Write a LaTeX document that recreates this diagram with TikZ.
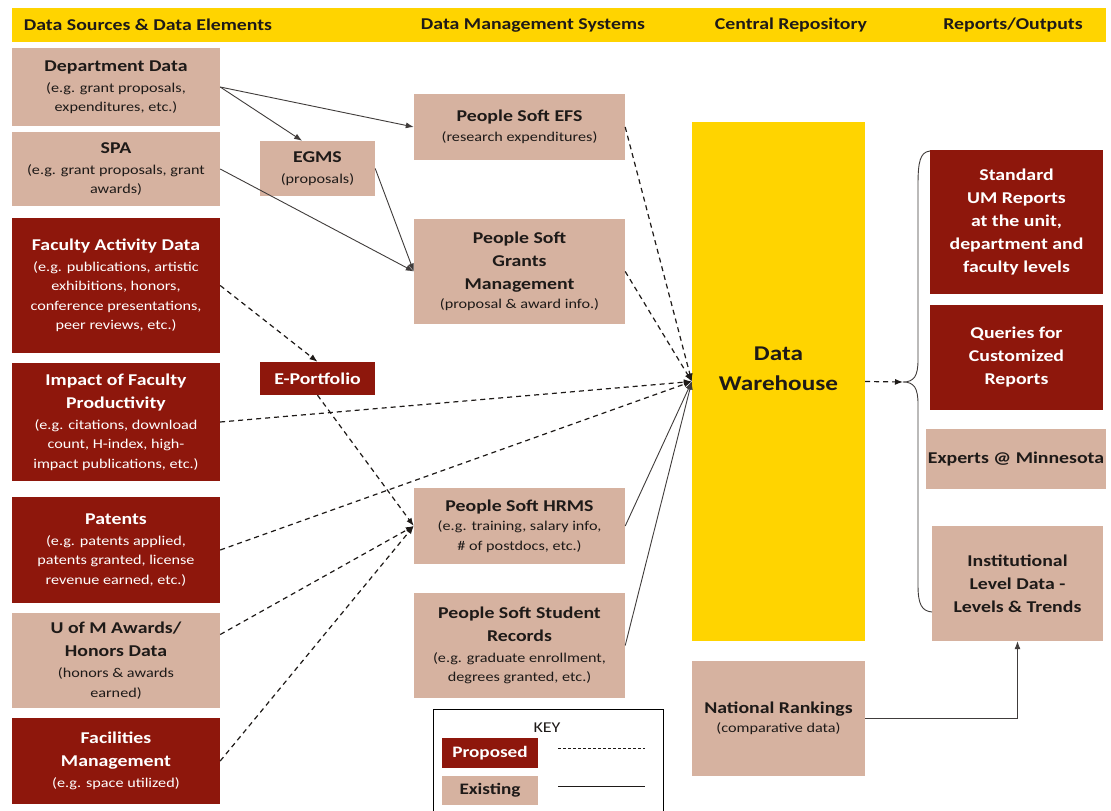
\documentclass[tikz,border=0pt]{standalone}
\usepackage{fontspec}
\setmainfont{Carlito}[FakeStretch=1.2]
\usepackage{tikz}
\usetikzlibrary{arrows.meta}

\definecolor{umtan}{HTML}{D6B2A0}
\definecolor{umred}{HTML}{8E170C}
\definecolor{umgold}{HTML}{FFD400}
\definecolor{ink}{HTML}{1E1A18}

\newcommand{\ttl}[1]{{\fontsize{16.5}{21}\selectfont\bfseries #1}}

\begin{document}
\begin{tikzpicture}[x=1pt,y=-1pt,
    box/.style={inner sep=2pt, align=center, font=\fontsize{13.5}{19.5}\selectfont},
    tanbox/.style={box, fill=umtan, text=ink},
    redbox/.style={box, fill=umred, text=white},
    bigtext/.style={font=\fontsize{16.5}{23}\selectfont\bfseries},
    head/.style={font=\fontsize{16.5}{20}\selectfont\bfseries, text=ink},
    existing/.style={draw=ink!85, line width=0.9pt, -{Latex[length=8pt,width=6pt]}},
    proposed/.style={draw=ink, line width=1.2pt, dash pattern=on 5pt off 4pt, -{Latex[length=8pt,width=6pt]}}]

    \useasboundingbox[fill=white] (0,0) rectangle (1111,811);

    % Header band
    \fill[umgold] (12,8) rectangle (1106,42);
    \node[head] (h1) at (148,25) {Data Sources \& Data Elements};
    \node[head] (h2) at (533,25) {Data Management Systems};
    \node[head] (h3) at (791,25) {Central Repository};
    \node[head] (h4) at (1013,25) {Reports/Outputs};

    % Data sources
    \node[tanbox, minimum width=208pt, minimum height=78pt] (dept) at (116,87)
        {\ttl{Department Data}\\[1.5pt](e.g. grant proposals,\\expenditures, etc.)};
    \node[tanbox, minimum width=208pt, minimum height=74pt] (spa) at (116,169)
        {\ttl{SPA}\\[1.5pt](e.g. grant proposals, grant\\awards)};
    \node[redbox, minimum width=208pt, minimum height=135pt] (fac) at (116,285.5)
        {\ttl{Faculty Activity Data}\\[1.5pt](e.g. publications, artistic\\exhibitions, honors,\\conference presentations,\\peer reviews, etc.)};
    \node[redbox, minimum width=208pt, minimum height=118pt] (impact) at (116,422)
        {\ttl{Impact of Faculty}\\[3.5pt]\ttl{Productivity}\\[1.5pt](e.g. citations, download\\count, H-index, high-\\impact publications, etc.)};
    \node[redbox, minimum width=208pt, minimum height=106pt] (patents) at (116,550)
        {\ttl{Patents}\\[1.5pt](e.g. patents applied,\\patents granted, license\\revenue earned, etc.)};
    \node[tanbox, minimum width=208pt, minimum height=95pt] (uofm) at (116,660.5)
        {\ttl{U of M Awards/}\\[3.5pt]\ttl{Honors Data}\\[1.5pt](honors \& awards\\earned)};
    \node[redbox, minimum width=208pt, minimum height=86pt] (facil) at (116,761)
        {\ttl{Facilities}\\[3.5pt]\ttl{Management}\\[1.5pt](e.g. space utilized)};

    % Intermediate systems
    \node[tanbox, minimum width=115pt, minimum height=55pt] (egms) at (317.5,168.5)
        {\ttl{EGMS}\\[1.5pt](proposals)};
    \node[redbox, minimum width=115pt, minimum height=33pt] (eport) at (317.5,378.5)
        {\ttl{E-Portfolio}};

    % Data management systems
    \node[tanbox, minimum width=211pt, minimum height=66pt] (efs) at (519.5,127)
        {\ttl{People Soft EFS}\\(research expenditures)};
    \node[tanbox, minimum width=211pt, minimum height=105pt] (grants) at (519.5,271.5)
        {\ttl{People Soft}\\[3.5pt]\ttl{Grants}\\[3.5pt]\ttl{Management}\\(proposal \& award info.)};
    \node[tanbox, minimum width=211pt, minimum height=76pt] (hrms) at (519.5,526)
        {\ttl{People Soft HRMS}\\(e.g. training, salary info,\\\# of postdocs, etc.)};
    \node[tanbox, minimum width=211pt, minimum height=105pt] (stud) at (519.5,645.5)
        {\ttl{People Soft Student}\\[3.5pt]\ttl{Records}\\[1.5pt](e.g. graduate enrollment,\\degrees granted, etc.)};

    % Central repository
    \node[fill=umgold, minimum width=173pt, minimum height=519pt, align=center, text=ink, text depth=26pt,
          font=\fontsize{21}{30}\selectfont\bfseries] (wh) at (778.5,381.5) {Data\\Warehouse};
    \node[tanbox, minimum width=173pt, minimum height=115pt] (natl) at (778.5,718.5)
        {\ttl{National Rankings}\\(comparative data)};

    % Reports and outputs
    \node[redbox, bigtext, minimum width=173pt, minimum height=144pt] (std) at (1016.5,222)
        {Standard\\UM Reports\\at the unit,\\department and\\faculty levels};
    \node[redbox, bigtext, minimum width=173pt, minimum height=105pt] (qry) at (1016.5,357.5)
        {Queries for\\Customized\\Reports};
    \node[tanbox, bigtext, minimum width=174pt, minimum height=60pt] (exp) at (1016,459)
        {Experts @ Minnesota};
    \node[tanbox, bigtext, minimum width=171pt, minimum height=115pt] (inst) at (1017.5,583.5)
        {Institutional\\Level Data -\\Levels \& Trends};

    % Existing links
    \draw[existing] (dept.east) -- (egms.119);
    \draw[existing] (dept.east) -- (efs.west);
    \draw[existing] (spa.east) -- (grants.west);
    \draw[existing] (egms.east) -- (grants.west);
    \draw[existing] (hrms.east) -- (wh.west);
    \draw[existing] (stud.east) -- (wh.west);
    \draw[existing] (natl.east) -| (inst.south);

    % Proposed links
    \draw[proposed] (fac.east) -- (eport.north);
    \draw[proposed] (eport.south) -- (hrms.west);
    \draw[proposed] (impact.east) -- (wh.west);
    \draw[proposed] (patents.east) -- (wh.west);
    \draw[proposed] (uofm.14) -- (hrms.west);
    \draw[proposed] (facil.east) -- (hrms.west);
    \draw[proposed] (efs.east) -- (wh.west);
    \draw[proposed] (grants.east) -- (wh.west);

    % Brace towards outputs
    \coordinate (tip) at (903,382);
    \draw[proposed] (wh.east) -- (tip);
    \draw[ink!85, line width=0.9pt] (930,151) .. controls (920,152) and (918,162) .. (918,185)
        -- (918,360) .. controls (918,376) and (914,382) .. (tip)
        .. controls (914,382) and (918,388) .. (918,404)
        -- (918,585) .. controls (918,605) and (922,611) .. (932,612);

    % Key
    \draw[fill=white, line width=0.8pt] (433,709) rectangle (663,840);
    \node[font=\fontsize{15}{16}\selectfont, text=ink] (key) at (547,728) {KEY};
    \node[redbox, minimum width=96pt, minimum height=30pt, font=\fontsize{16}{18}\selectfont\bfseries] (prop) at (490,753) {Proposed};
    \node[tanbox, minimum width=96pt, minimum height=29pt, font=\fontsize{16}{18}\selectfont\bfseries] (exist) at (490,790.5) {Existing};
    \coordinate (pa) at (558,748);
    \coordinate (pb) at (645,748);
    \coordinate (ea) at (558,786);
    \coordinate (eb) at (645,786);
    \draw[ink, line width=0.7pt, dash pattern=on 3pt off 2pt] (pa) -- (pb);
    \draw[ink, line width=0.9pt] (ea) -- (eb);
\end{tikzpicture}
\end{document}
